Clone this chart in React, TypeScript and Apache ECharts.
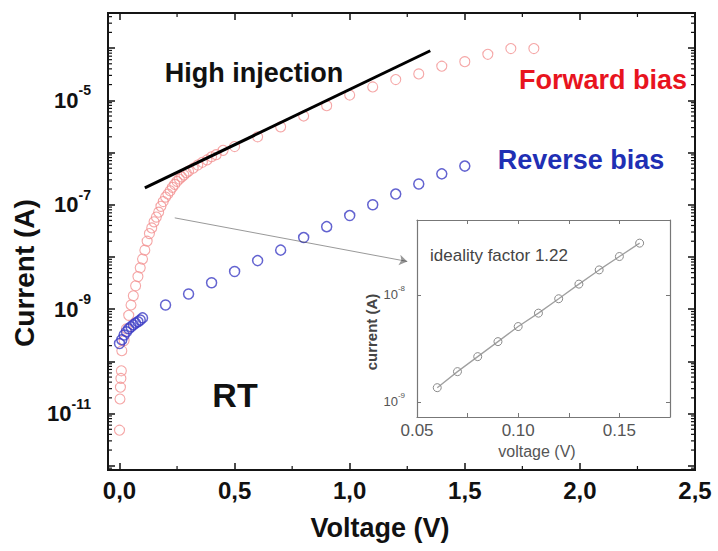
import React, { useEffect, useRef } from 'react';
import * as echarts from 'echarts';

const FONT = '"Liberation Sans", Arial, Helvetica, sans-serif';

// Forward bias I–V (A)
const forwardVoltage = [
  0, 0.002, 0.004, 0.006, 0.008,
  0.01, 0.02, 0.03, 0.04, 0.05, 0.06, 0.07, 0.08, 0.09, 0.1,
  0.11, 0.12, 0.13, 0.14, 0.15, 0.16, 0.17, 0.18, 0.19, 0.2,
  0.21, 0.22, 0.23, 0.24, 0.25, 0.26, 0.27, 0.28, 0.29, 0.3,
  0.32, 0.34, 0.36, 0.38, 0.4, 0.42, 0.45,
  0.5, 0.6, 0.7, 0.8, 0.9, 1.0, 1.1, 1.2, 1.3, 1.4, 1.5, 1.6, 1.7, 1.8,
];
const forwardCurrent = [
  4.8e-12, 1.9e-11, 3.2e-11, 4.7e-11, 6.6e-11,
  1.6e-10, 2.5e-10, 4.2e-10, 7.6e-10, 1.2e-9, 1.8e-9, 2.8e-9, 4.2e-9, 6.2e-9, 9.1e-9,
  1.35e-8, 2.0e-8, 2.8e-8, 3.6e-8, 4.7e-8, 5.8e-8, 7.2e-8, 9.3e-8, 1.15e-7, 1.4e-7,
  1.6e-7, 1.85e-7, 2.15e-7, 2.45e-7, 2.8e-7, 3.1e-7, 3.4e-7, 3.7e-7, 4.1e-7, 4.4e-7,
  5.0e-7, 5.75e-7, 6.5e-7, 7.2e-7, 8.3e-7, 9.1e-7, 1.1e-6,
  1.3e-6, 2.0e-6, 3.1e-6, 5.0e-6, 7.9e-6, 1.26e-5, 1.8e-5, 2.5e-5, 3.2e-5, 4.5e-5, 5.5e-5, 7.6e-5, 9.8e-5, 9.8e-5,
];

// Reverse bias |I| vs |V| (A)
const reverseVoltage = [
  0, 0.01, 0.02, 0.03, 0.04, 0.05, 0.06, 0.07, 0.08, 0.09, 0.1,
  0.2, 0.3, 0.4, 0.5, 0.6, 0.7, 0.8, 0.9, 1.0, 1.1, 1.2, 1.3, 1.4, 1.5,
];
const reverseCurrent = [
  2.2e-10, 2.6e-10, 3.2e-10, 3.7e-10, 4.2e-10, 4.6e-10, 5.0e-10, 5.4e-10, 5.75e-10, 6.2e-10, 6.8e-10,
  1.2e-9, 1.95e-9, 3.2e-9, 5.25e-9, 8.5e-9, 1.35e-8, 2.35e-8, 3.8e-8, 6.2e-8, 1.0e-7, 1.6e-7, 2.5e-7, 3.9e-7, 5.5e-7,
];

// High-injection guide line
const highInjectionVoltage = [0.11, 1.35];
const highInjectionCurrent = [2.1e-7, 8.9e-5];

// Arrow from the forward-bias knee to the inset
const arrowVoltage = [0.24, 1.25];
const arrowCurrent = [5.6e-8, 8.2e-9];

// Inset: low-voltage forward region used for the ideality factor
const insetVoltage = [0.06, 0.07, 0.08, 0.09, 0.1, 0.11, 0.12, 0.13, 0.14, 0.15, 0.16];
const insetCurrent = [1.36e-9, 1.92e-9, 2.65e-9, 3.66e-9, 5.06e-9, 6.75e-9, 9.2e-9, 1.26e-8, 1.71e-8, 2.28e-8, 3.04e-8];

// Axis tick labels
const xTickValues = [0, 0.5, 1.0, 1.5, 2.0, 2.5];
const xTickLabels = ['0,0', '0,5', '1,0', '1,5', '2,0', '2,5'];
const yLabelExponents = [-11, -9, -7, -5];
const insetXTickValues = [0.05, 0.1, 0.15];
const insetXTickLabels = ['0.05', '0.10', '0.15'];
const insetYLabelExponents = [-9, -8];

const X_MIN = -0.05;
const X_MAX = 2.5;
const Y_MIN = 8.3e-13;
const Y_MAX = 4.7e-4;
const IX_MIN = 0.05;
const IX_MAX = 0.175;
const IY_MIN = 7.24e-10;
const IY_MAX = 5.0e-8;

// plot area of the main panel (px)
const MAIN_LEFT = 108;
const MAIN_TOP = 13;
const MAIN_RIGHT = 23;
const MAIN_BOTTOM = 81;
const W = 718;
const H = 551;

const pairs = (xs: number[], ys: number[]) => xs.map((x, i) => [x, ys[i]]);

const labelFromList = (values: number[], labels: string[]) => (v: number) => {
  const i = values.findIndex((t) => Math.abs(t - v) < 1e-6);
  return i >= 0 ? labels[i] : '';
};

const powerLabel = (exps: number[]) => (v: number) => {
  const lg = Math.log10(v);
  const e = Math.round(lg);
  if (Math.abs(lg - e) > 0.01 || exps.indexOf(e) < 0) return '';
  return `{b|10}{s|${e}}`;
};

// minor log ticks m·10^k inside [lo, hi]
const logMinorTicks = (lo: number, hi: number) => {
  const out: number[] = [];
  for (let k = Math.floor(Math.log10(lo)); k <= Math.ceil(Math.log10(hi)); k++) {
    for (let m = 2; m <= 9; m++) {
      const v = m * Math.pow(10, k);
      if (v > lo && v < hi) out.push(v);
    }
  }
  return out;
};
const xMinorTickValues = [0.25, 0.75, 1.25, 1.75, 2.25];

const tickStroke = { stroke: '#111', lineWidth: 1.2 };

const yMinorRender = (len: number, stroke: any) => (params: any, api: any) => {
  const cs = params.coordSys;
  const y = api.coord([api.value(0), api.value(1)])[1];
  return {
    type: 'group',
    children: [
      { type: 'line', shape: { x1: cs.x, y1: y, x2: cs.x + len, y2: y }, style: stroke },
      { type: 'line', shape: { x1: cs.x + cs.width - len, y1: y, x2: cs.x + cs.width, y2: y }, style: stroke },
    ],
  };
};
const xMinorRender = (len: number, stroke: any) => (params: any, api: any) => {
  const cs = params.coordSys;
  const x = api.coord([api.value(0), api.value(1)])[0];
  return {
    type: 'group',
    children: [
      { type: 'line', shape: { x1: x, y1: cs.y + cs.height, x2: x, y2: cs.y + cs.height - len }, style: stroke },
      { type: 'line', shape: { x1: x, y1: cs.y, x2: x, y2: cs.y + len }, style: stroke },
    ],
  };
};

const mainAxisLine = () => ({ show: true, onZero: false, lineStyle: { color: '#111', width: 2 } });
const mainTick = () => ({ show: true, inside: true, length: 7, lineStyle: { color: '#111', width: 1.5 } });
const insetAxisLine = () => ({ show: true, onZero: false, lineStyle: { color: '#777', width: 1.2 } });
const insetTick = () => ({ show: true, inside: true, length: 4, lineStyle: { color: '#777', width: 1 } });

// one side of the panel frame as a thin filled bar
const frameBar = (x: number, y: number, width: number, height: number) => ({
  type: 'rect', z: 19, silent: true,
  shape: { x, y, width, height },
  style: { fill: '#151515' },
});

const text = (x: number, y: number, str: string, font: string, fill: string, extra: any = {}) => ({
  type: 'text',
  x,
  y,
  z: 20,
  ...extra,
  style: {
    text: str,
    font,
    fill,
    align: extra.align || 'center',
    textAlign: extra.align || 'center',
    verticalAlign: 'middle',
    textVerticalAlign: 'middle',
  },
});

export default function App() {
  const ref = useRef<HTMLDivElement>(null);

  useEffect(() => {
    if (!ref.current) return;
    const chart = echarts.init(ref.current, undefined, { renderer: 'svg' });

    const plotW = W - MAIN_LEFT - MAIN_RIGHT;
    const plotH = H - MAIN_TOP - MAIN_BOTTOM;

    const option: any = {
      animation: false,
      backgroundColor: '#fff',
      grid: [
        {
          left: MAIN_LEFT, top: MAIN_TOP, right: MAIN_RIGHT, bottom: MAIN_BOTTOM,
          outerBoundsMode: 'none', containLabel: false,
        },
        {
          left: 417, top: 220, right: 48, bottom: 134, outerBoundsMode: 'none', containLabel: false,
          show: true, backgroundColor: '#fff', borderWidth: 0, z: 5,
        },
      ],
      xAxis: [
        {
          gridIndex: 0, type: 'value', min: X_MIN, max: X_MAX, position: 'bottom', z: 6,
          axisLine: mainAxisLine(), axisTick: mainTick(), splitLine: { show: false },
          axisLabel: {
            formatter: labelFromList(xTickValues, xTickLabels), margin: 8,
            fontSize: 24, fontWeight: 'bold', fontFamily: FONT, color: '#111',
          },
        },
        {
          gridIndex: 0, type: 'value', min: X_MIN, max: X_MAX, position: 'top', z: 6,
          axisLine: mainAxisLine(), axisTick: mainTick(), splitLine: { show: false }, axisLabel: { show: false },
        },
        {
          gridIndex: 1, type: 'value', min: IX_MIN, max: IX_MAX, interval: 0.025, position: 'bottom', z: 6,
          axisLine: insetAxisLine(), axisTick: insetTick(), splitLine: { show: false },
          axisLabel: {
            formatter: labelFromList(insetXTickValues, insetXTickLabels), margin: 5,
            fontSize: 17, fontFamily: FONT, color: '#555',
          },
        },
        {
          gridIndex: 1, type: 'value', min: IX_MIN, max: IX_MAX, interval: 0.025, position: 'top', z: 6,
          axisLine: insetAxisLine(), axisTick: insetTick(), splitLine: { show: false }, axisLabel: { show: false },
        },
      ],
      yAxis: [
        {
          gridIndex: 0, type: 'log', logBase: 10, min: Y_MIN, max: Y_MAX, position: 'left', z: 6,
          axisLine: mainAxisLine(), axisTick: mainTick(), splitLine: { show: false },
          axisLabel: {
            formatter: powerLabel(yLabelExponents), margin: 17, color: '#111',
            rich: {
              b: { fontSize: 22, fontWeight: 'bold', fontFamily: FONT, color: '#111' },
              s: { fontSize: 14, fontWeight: 'bold', fontFamily: FONT, color: '#111', padding: [0, 0, 20, 0] },
            },
          },
        },
        {
          gridIndex: 0, type: 'log', logBase: 10, min: Y_MIN, max: Y_MAX, position: 'right', z: 6,
          axisLine: mainAxisLine(), axisTick: mainTick(), splitLine: { show: false }, axisLabel: { show: false },
        },
        {
          gridIndex: 1, type: 'log', logBase: 10, min: IY_MIN, max: IY_MAX, position: 'left', z: 6,
          axisLine: insetAxisLine(), axisTick: insetTick(), splitLine: { show: false },
          axisLabel: {
            formatter: powerLabel(insetYLabelExponents), margin: 12, color: '#555',
            rich: {
              b: { fontSize: 13, fontFamily: FONT, color: '#555' },
              s: { fontSize: 8, fontFamily: FONT, color: '#555', padding: [0, 0, 12, 0] },
            },
          },
        },
        {
          gridIndex: 1, type: 'log', logBase: 10, min: IY_MIN, max: IY_MAX, position: 'right', z: 6,
          axisLine: insetAxisLine(), axisTick: insetTick(), splitLine: { show: false }, axisLabel: { show: false },
        },
      ],
      series: [
        {
          name: 'Forward bias', type: 'scatter', xAxisIndex: 0, yAxisIndex: 0,
          data: pairs(forwardVoltage, forwardCurrent), symbol: 'circle', symbolSize: 10,
          itemStyle: { color: 'rgba(255,255,255,0)', borderColor: '#f29090', borderWidth: 1.1 },
          z: 3,
        },
        {
          name: 'Reverse bias', type: 'scatter', xAxisIndex: 0, yAxisIndex: 0,
          data: pairs(reverseVoltage, reverseCurrent), symbol: 'circle', symbolSize: 10,
          itemStyle: { color: 'rgba(255,255,255,0)', borderColor: '#3c3cc4', borderWidth: 1.5 },
          z: 3,
        },
        {
          name: 'High injection', type: 'line', xAxisIndex: 0, yAxisIndex: 0,
          data: pairs(highInjectionVoltage, highInjectionCurrent), showSymbol: false,
          lineStyle: { color: '#000', width: 3 }, z: 4, silent: true,
        },
        {
          name: 'pointer', type: 'lines', coordinateSystem: 'cartesian2d', xAxisIndex: 0, yAxisIndex: 0,
          data: [{ coords: pairs(arrowVoltage, arrowCurrent) }],
          symbol: ['none', 'arrow'], symbolSize: 8,
          lineStyle: { color: '#333', width: 1 }, z: 4, silent: true,
        },
        {
          name: 'yMinor', type: 'custom', xAxisIndex: 0, yAxisIndex: 0, silent: true, z: 5,
          data: logMinorTicks(Y_MIN, Y_MAX).map((v) => [X_MIN, v]),
          renderItem: yMinorRender(4, tickStroke),
        },
        {
          name: 'xMinor', type: 'custom', xAxisIndex: 0, yAxisIndex: 0, silent: true, z: 5,
          data: xMinorTickValues.map((v) => [v, Y_MIN * 2]),
          renderItem: xMinorRender(4, tickStroke),
        },
        {
          name: 'ideality', type: 'line', xAxisIndex: 2, yAxisIndex: 2,
          data: pairs(insetVoltage, insetCurrent), symbol: 'circle', symbolSize: 8, showSymbol: true,
          lineStyle: { color: '#a0a0a0', width: 1.3 },
          itemStyle: { color: 'rgba(255,255,255,0)', borderColor: '#8a8a8a', borderWidth: 1 },
          z: 7,
        },
      ],
      graphic: [
        frameBar(MAIN_LEFT - 1, MAIN_TOP - 1, plotW + 2, 2),
        frameBar(MAIN_LEFT - 1, MAIN_TOP + plotH - 1, plotW + 2, 2),
        frameBar(MAIN_LEFT - 1, MAIN_TOP - 1, 2, plotH + 2),
        frameBar(MAIN_LEFT + plotW - 1, MAIN_TOP - 1, 2, plotH + 2),
        text(254, 73, 'High injection', `bold 27px ${FONT}`, '#111'),
        text(603, 80, 'Forward bias', `bold 27px ${FONT}`, '#e8141e'),
        text(581, 160, 'Reverse bias', `bold 27px ${FONT}`, '#1f2fb4'),
        text(235, 395, 'RT', `bold 34px ${FONT}`, '#111'),
        text(380, 528, 'Voltage (V)', `bold 27px ${FONT}`, '#111'),
        text(24, 273, 'Current (A)', `bold 28px ${FONT}`, '#111', { rotation: Math.PI / 2 }),
        text(430, 255, 'ideality factor 1.22', `17px ${FONT}`, '#444', { align: 'left' }),
        text(537, 451, 'voltage (V)', `16px ${FONT}`, '#555'),
        text(371, 332, 'current (A)', `bold 15px ${FONT}`, '#444', { rotation: Math.PI / 2 }),
      ],
    };

    chart.setOption(option);
    return () => chart.dispose();
  }, []);

  return (
    <div
      ref={ref}
      style={{ position: 'absolute', left: 0, top: 0, width: W, height: H, background: '#fff' }}
    />
  );
}
